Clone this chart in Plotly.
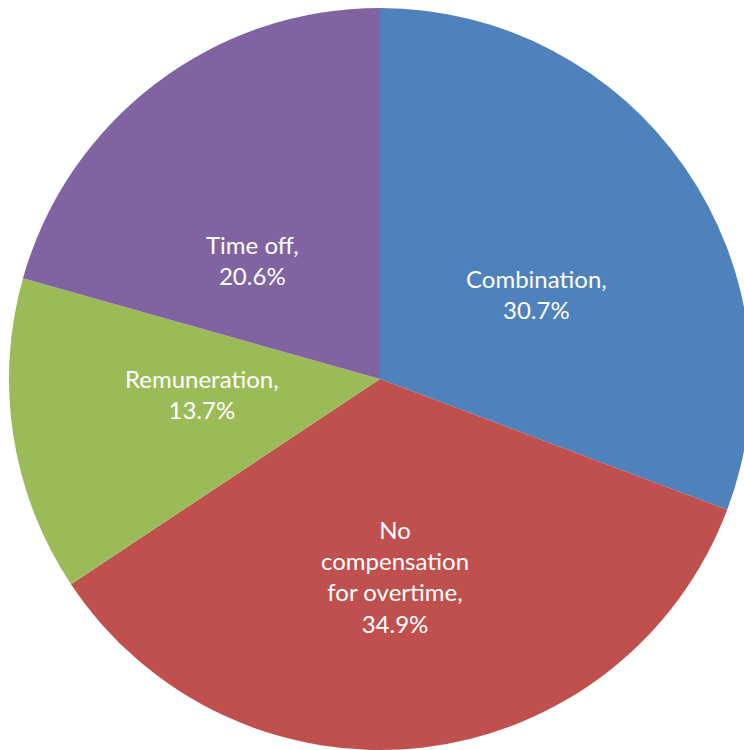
import plotly.graph_objects as go

# Overtime compensation breakdown
categories = ["Combination", "No compensation for overtime", "Remuneration", "Time off"]
shares = [30.7, 34.9, 13.7, 20.6]
label_lines = ["Combination,", "No<br>compensation<br>for overtime,", "Remuneration,", "Time off,"]
colors = ["#4F81BD", "#C0504D", "#9BBB59", "#8064A2"]

# data-label anchor points (pixels from top-left of the figure)
label_pos = [(536, 294), (395, 576), (202, 394), (253, 260)]

W, H = 760, 750
fig = go.Figure(
    go.Pie(
        labels=categories,
        values=shares,
        textinfo="none",
        sort=False,
        direction="clockwise",
        rotation=0,
        marker=dict(colors=colors, line=dict(width=0)),
        domain=dict(x=[9 / W, 751 / W], y=[0, 742 / H]),
        showlegend=False,
        hoverinfo="label+percent",
    )
)

for lines, v, (px, py) in zip(label_lines, shares, label_pos):
    fig.add_annotation(
        text=f"{lines}<br>{v:.1f}%",
        x=px / W,
        y=1 - py / H,
        xref="paper",
        yref="paper",
        xanchor="center",
        yanchor="middle",
        showarrow=False,
        align="center",
        font=dict(family="Lato", size=24, color="white"),
    )

fig.update_layout(
    width=W,
    height=H,
    margin=dict(l=0, r=0, t=0, b=0),
    paper_bgcolor="white",
    plot_bgcolor="white",
)
fig.write_html("out.html")
